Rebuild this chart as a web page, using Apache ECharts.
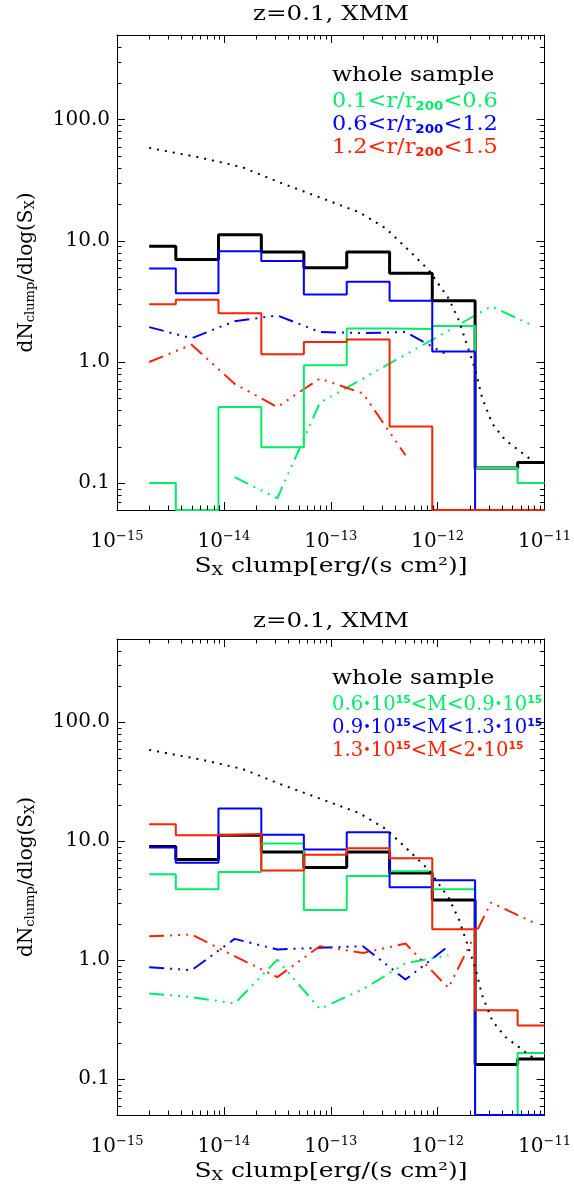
<!DOCTYPE html>
<html><head><meta charset="utf-8">
<script src="https://cdn.jsdelivr.net/npm/echarts@6.0.0/dist/echarts.min.js"></script>
<style>html,body{margin:0;padding:0;background:#fff}#c{width:574px;height:1186px}</style>
</head><body><div id="c"></div>
<script>
const FONT = 'DejaVu Serif';
const GREEN = '#00ee66', BLUE = '#0000ff', RED = '#ff2200', BLACK = '#000000';

// histogram bin edges (S_X, erg/s/cm^2)
const binEdges = [2.0e-15, 3.55e-15, 8.9e-15, 2.24e-14, 5.6e-14, 1.41e-13, 3.55e-13, 8.9e-13, 2.24e-12, 5.6e-12, 1.0e-11];
// whole sample (same in both panels)
const wholeSample = [9.0, 7.0, 11.2, 8.1, 6.0, 8.1, 5.4, 3.2, 0.133, 0.148];
// top panel: radial bins
const topInner = [0.1, 0, 0.425, 0.198, 0.94, 1.89, 1.87, 1.98, 0.133, 0.1];
const topMid   = [5.9, 3.7, 8.2, 6.8, 3.6, 4.6, 3.2, 1.22, 0, 0];
const topOuter = [3.0, 3.27, 2.53, 1.16, 1.46, 1.53, 0.294, 0, 0, 0];
// bottom panel: mass bins
const botLow  = [5.27, 3.94, 5.5, 9.55, 2.64, 5.1, 5.6, 3.94, 0, 0.166];
const botMid  = [8.85, 6.6, 18.8, 11.3, 8.5, 11.9, 4.1, 4.7, 0, 0];
const botHigh = [13.9, 11.2, 11.5, 5.67, 7.7, 8.7, 7.2, 1.82, 0.38, 0.283];

// dash-dot-dot-dot model curves
const modelX = [2.0e-15, 5.0e-15, 1.26e-14, 3.16e-14, 7.9e-14, 2.0e-13, 5.0e-13, 1.26e-12, 3.16e-12, 7.9e-12];
const topInnerModel = [null, null, 0.112, 0.075, 0.46, 0.73, 1.15, 1.81, 2.89, 1.98];
const topMidModel   = [1.94, 1.57, 2.17, 2.42, 1.77, 1.73, 1.77, 1.13, null, null];
const topOuterModel = [1.0, 1.39, 0.66, 0.425, 0.73, 0.55, 0.17, null, null, null];
const botLowModel   = [0.524, 0.49, 0.432, 1.01, 0.39, 0.57, 0.94, 1.1, null, null];
const botMidModel   = [0.873, 0.824, 1.51, 1.23, 1.27, 1.31, 0.687, 1.31, null, null];
const botHighModel  = [1.59, 1.64, 1.08, 0.72, 1.31, 1.15, 1.38, 0.585, 3.05, 2.07];

// dotted reference curve
const dottedX = [2.0e-15, 5.9e-15, 1.5e-14, 3.3e-14, 7.8e-14, 1.85e-13, 3.3e-13, 5.4e-13, 8.3e-13, 1.27e-12, 1.58e-12, 1.89e-12, 2.26e-12, 2.6e-12, 3.24e-12, 4.3e-12, 6.2e-12, 7.9e-12];
const dottedY = [58.5, 48.8, 40.4, 30.4, 22.9, 17.2, 12.6, 8.3, 5.7, 3.33, 2.2, 1.37, 0.85, 0.51, 0.31, 0.226, 0.177, 0.15];

// axes
const xRange = [1e-15, 1e-11];
const yRangeTop = [0.06, 500];
const yRangeBot = [0.05, 500];

// texts
const panelTitle = 'z=0.1, XMM';
const xTitle = '{n|S}{sub|X}{n| clump[erg/(s cm²)]}';
const yTitle = '{n|dN}{sub|clump}{n|/dlog(S}{sub|X}{n|)}';
const topLegend = ['whole sample', '0.1<r/r{s|200}<0.6', '0.6<r/r{s|200}<1.2', '1.2<r/r{s|200}<1.5'];
const botLegend = ['whole sample', '0.6{d|•}10{p|15}<M<0.9{d|•}10{p|15}', '0.9{d|•}10{p|15}<M<1.3{d|•}10{p|15}', '1.3{d|•}10{p|15}<M<2{d|•}10{p|15}'];
const legendColors = [BLACK, GREEN, BLUE, RED];

const GRIDS = [
  {left: 117, top: 35, width: 429, height: 475},
  {left: 117, top: 639, width: 429, height: 476}
];

function stepData(vals, ymin) {
  const d = [];
  for (let i = 0; i < binEdges.length; i++) {
    let v = vals[Math.min(i, vals.length - 1)];
    if (!(v > ymin)) v = ymin;
    d.push([binEdges[i], v]);
  }
  return d;
}
function stepSeries(g, vals, color, width, ymin, z) {
  return {type: 'line', xAxisIndex: 2 * g, yAxisIndex: 2 * g, step: 'end', symbol: 'none',
    data: stepData(vals, ymin), lineStyle: {color: color, width: width}, z: z, silent: true, animation: false};
}
function modelSeries(g, vals, color) {
  return {type: 'line', xAxisIndex: 2 * g, yAxisIndex: 2 * g, symbol: 'none',
    data: modelX.map((x, i) => [x, vals[i]]),
    lineStyle: {color: color, width: 2, type: [15, 6, 2, 6, 2, 6, 2, 6]}, z: 2, silent: true, animation: false};
}
function dottedSeries(g) {
  return {type: 'line', xAxisIndex: 2 * g, yAxisIndex: 2 * g, symbol: 'none',
    data: dottedX.map((x, i) => [x, dottedY[i]]),
    lineStyle: {color: BLACK, width: 2, type: [2, 6]}, z: 6, silent: true, animation: false};
}
function minorVals(lo, hi) {
  const out = [];
  for (let e = Math.floor(Math.log10(lo)); e <= Math.ceil(Math.log10(hi)); e++) {
    for (let m = 2; m <= 9; m++) {
      const v = m * Math.pow(10, e);
      if (v > lo * 1.0001 && v < hi * 0.9999) out.push(v);
    }
  }
  return out;
}
function minorTickSeries(g, yr) {
  const xm = minorVals(xRange[0], xRange[1]);
  const ym = minorVals(yr[0], yr[1]);
  return {type: 'custom', xAxisIndex: 2 * g, yAxisIndex: 2 * g, silent: true, clip: false, z: 10,
    data: [[1e-13, 1]], animation: false,
    renderItem: function (params, api) {
      const cs = params.coordSys; const L = 4.5; const ch = [];
      const st = {stroke: '#000', lineWidth: 1};
      xm.forEach(v => {
        const px = Math.round(api.coord([v, 1])[0]) + 0.5;
        ch.push({type: 'line', shape: {x1: px, y1: cs.y + cs.height, x2: px, y2: cs.y + cs.height - L}, style: st});
        ch.push({type: 'line', shape: {x1: px, y1: cs.y, x2: px, y2: cs.y + L}, style: st});
      });
      ym.forEach(v => {
        const py = Math.round(api.coord([1e-13, v])[1]) + 0.5;
        ch.push({type: 'line', shape: {x1: cs.x, y1: py, x2: cs.x + L, y2: py}, style: st});
        ch.push({type: 'line', shape: {x1: cs.x + cs.width, y1: py, x2: cs.x + cs.width - L, y2: py}, style: st});
      });
      return {type: 'group', children: ch};
    }};
}

const axisLineStyle = {show: true, lineStyle: {color: '#000', width: 1}};
const majorTick = {show: true, inside: true, length: 8, lineStyle: {color: '#000', width: 1}};

function xAxes(g) {
  const base = {type: 'log', logBase: 10, gridIndex: g, min: xRange[0], max: xRange[1],
    axisLine: axisLineStyle, axisTick: majorTick, splitLine: {show: false}, minorTick: {show: false}};
  return [
    Object.assign({}, base, {position: 'bottom',
      axisLabel: {show: true, margin: 20,
        formatter: v => '{b|10}{s|−' + (-Math.round(Math.log10(v))) + '}',
        rich: {b: {fontFamily: FONT, fontSize: 20, color: '#000', lineHeight: 24},
               s: {fontFamily: FONT, fontSize: 13, color: '#000', verticalAlign: 'top'}}}}),
    Object.assign({}, base, {position: 'top', axisLabel: {show: false}})
  ];
}
function yAxes(g, yr) {
  const base = {type: 'log', logBase: 10, gridIndex: g, min: yr[0], max: yr[1],
    axisLine: axisLineStyle, axisTick: majorTick, splitLine: {show: false}, minorTick: {show: false}};
  return [
    Object.assign({}, base, {position: 'left',
      name: yTitle, nameLocation: 'middle', nameRotate: 90, nameGap: 80,
      nameTextStyle: {rich: {
        n: {fontFamily: FONT, fontSize: 20, color: '#000'},
        sub: {fontFamily: FONT, fontSize: 13, color: '#000', verticalAlign: 'bottom', padding: [8, 0, 0, 0]}}},
      axisLabel: {show: true, margin: 7, showMinLabel: false, showMaxLabel: false,
        fontFamily: FONT, fontSize: 20, color: '#000',
        formatter: v => {
          const e = Math.log10(v);
          if (Math.abs(e - Math.round(e)) > 1e-6) return '';
          return Number(v).toFixed(1);
        }}}),
    Object.assign({}, base, {position: 'right', axisLabel: {show: false}})
  ];
}

const legendScale = [1.17, 1.12, 1.12, 1.12];
const legendScaleM = [1.17, 0.98, 0.98, 0.98];
function legendGraphics(lines, top, scales) {
  return lines.map((t, i) => ({
    type: 'text', x: 332, y: top + [0, 26, 49, 72][i], scaleX: scales[i], silent: true,
    style: {text: t, fill: legendColors[i], fontFamily: FONT, fontSize: 20, verticalAlign: 'middle',
      rich: {
        s: {fill: legendColors[i], fontFamily: 'DejaVu Sans', fontWeight: 'bold', fontSize: 12, verticalAlign: 'bottom', padding: [9, 0, 0, 0]},
        p: {fill: legendColors[i], fontFamily: 'DejaVu Sans', fontWeight: 'bold', fontSize: 11, verticalAlign: 'top', padding: [0, 0, 9, 0]},
        d: {fill: legendColors[i], fontFamily: FONT, fontSize: 13}
      }}
  }));
}
function centerText(text, y, scale, rich) {
  return {type: 'text', x: 331, y: y, scaleX: scale, silent: true,
    style: {text: text, fill: '#000', fontFamily: FONT, fontSize: 21, align: 'center', verticalAlign: 'middle', rich: rich}};
}
const xTitleRich = {
  n: {fill: '#000', fontFamily: FONT, fontSize: 20},
  sub: {fill: '#000', fontFamily: FONT, fontSize: 13, verticalAlign: 'bottom', padding: [9, 0, 0, 0]}
};

const option = {
  backgroundColor: '#fff',
  animation: false,
  grid: GRIDS.map(g => Object.assign({show: false}, g)),
  xAxis: [].concat(xAxes(0), xAxes(1)),
  yAxis: [].concat(yAxes(0, yRangeTop), yAxes(1, yRangeBot)),
  graphic: [
    centerText(panelTitle, 15, 1.17),
    centerText(panelTitle, 622, 1.17),
    centerText(xTitle, 567, 1.25, xTitleRich),
    centerText(xTitle, 1172, 1.25, xTitleRich)
  ].concat(legendGraphics(topLegend, 76, legendScale), legendGraphics(botLegend, 679, legendScaleM)),
  series: [
    modelSeries(0, topInnerModel, GREEN),
    modelSeries(0, topMidModel, BLUE),
    modelSeries(0, topOuterModel, RED),
    stepSeries(0, wholeSample, BLACK, 3, yRangeTop[0], 3),
    stepSeries(0, topInner, GREEN, 2, yRangeTop[0], 4),
    stepSeries(0, topMid, BLUE, 2, yRangeTop[0], 4),
    stepSeries(0, topOuter, RED, 2, yRangeTop[0], 4),
    dottedSeries(0),
    minorTickSeries(0, yRangeTop),
    modelSeries(1, botLowModel, GREEN),
    modelSeries(1, botMidModel, BLUE),
    modelSeries(1, botHighModel, RED),
    stepSeries(1, wholeSample, BLACK, 3, yRangeBot[0], 3),
    stepSeries(1, botLow, GREEN, 2, yRangeBot[0], 4),
    stepSeries(1, botMid, BLUE, 2, yRangeBot[0], 4),
    stepSeries(1, botHigh, RED, 2, yRangeBot[0], 4),
    dottedSeries(1),
    minorTickSeries(1, yRangeBot)
  ]
};
const chart = echarts.init(document.getElementById('c'), null, {renderer: 'canvas'});
chart.setOption(option);
</script>
</body></html>
